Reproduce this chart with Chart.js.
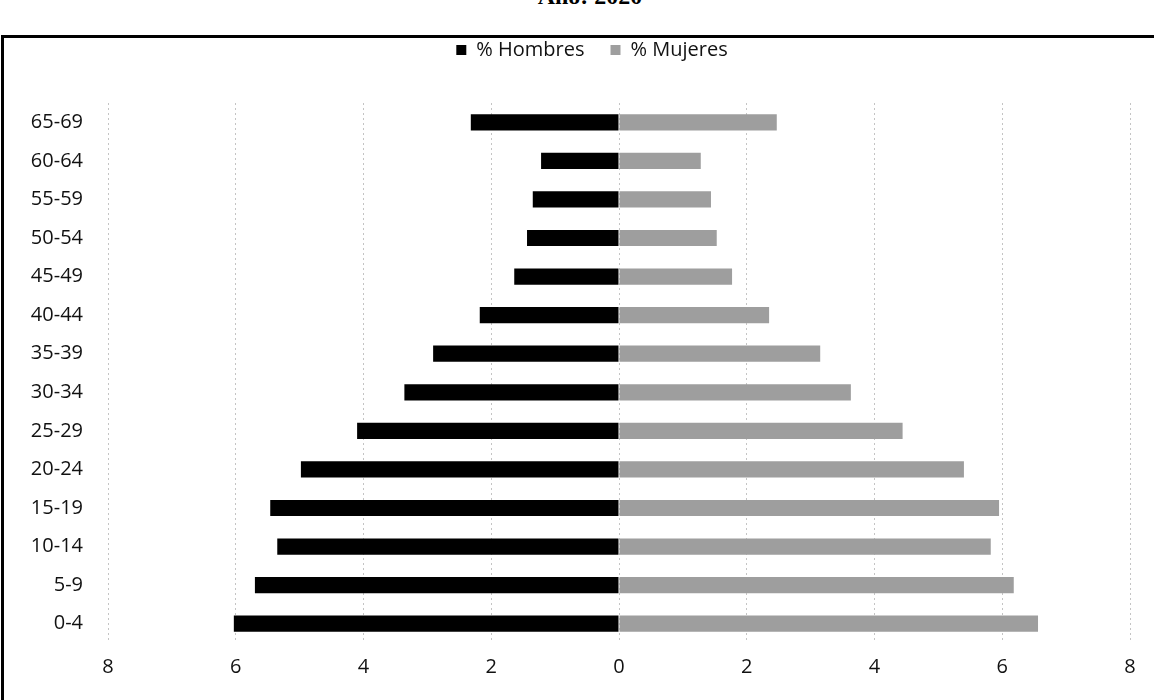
<!DOCTYPE html>
<html lang="es">
<head>
    <meta charset="UTF-8">
    <title>Pirámide de población - Año: 2020</title>
    <script src="https://cdn.jsdelivr.net/npm/chart.js"></script>
    <style>
        body { margin: 0; background: #fff; width: 1154px; height: 700px; overflow: hidden; position: relative; }
        #titulo { position: absolute; top: -17px; left: 0; width: 1180px; text-align: center;
                  font-family: "Liberation Serif", serif; font-weight: bold; font-size: 24px; color: #000; }
        #marco { position: absolute; left: 1px; top: 35px; width: 1170px; height: 700px;
                 border: 3px solid #000; box-sizing: border-box; }
        #wrap { position: absolute; left: 0; top: 14px; width: 1154px; height: 686px; }
    </style>
</head>
<body>
<div id="titulo">Año: 2020</div>
<div id="marco"></div>
<div id="wrap"><canvas id="piramide"></canvas></div>

<script>
    var grupos = ['65-69', '60-64', '55-59', '50-54', '45-49', '40-44', '35-39',
                  '30-34', '25-29', '20-24', '15-19', '10-14', '5-9', '0-4'];
    var hombres = [2.32, 1.22, 1.35, 1.44, 1.64, 2.18, 2.91, 3.36, 4.10, 4.98, 5.46, 5.35, 5.70, 6.03];
    var mujeres = [2.47, 1.28, 1.44, 1.53, 1.77, 2.35, 3.15, 3.63, 4.44, 5.40, 5.95, 5.82, 6.18, 6.56];

    // espacio entre leyenda y grafico, y leyenda un poco a la derecha
    var ajusteLeyenda = {
        id: 'ajusteLeyenda',
        beforeInit: function(chart) {
            var leyenda = chart.legend;
            var fit = leyenda.fit;
            var draw = leyenda.draw;
            leyenda.fit = function() {
                fit.bind(leyenda)();
                this.height = 89;
            };
            leyenda.draw = function() {
                var c = chart.ctx;
                c.save();
                c.translate(27, 0);
                draw.apply(leyenda, arguments);
                c.restore();
            };
        }
    };

    var fuente = { family: 'Open Sans', size: 20 };

    var ctx = document.getElementById('piramide').getContext('2d');
    var piramide = new Chart(ctx, {
        type: 'bar',
        data: {
            labels: grupos,
            datasets: [{
                label: '% Hombres',
                data: hombres.map(function(v) { return -v; }),
                backgroundColor: '#000000',
                barPercentage: 0.42,
                categoryPercentage: 1
            }, {
                label: '% Mujeres',
                data: mujeres,
                backgroundColor: '#9e9e9e',
                barPercentage: 0.42,
                categoryPercentage: 1
            }]
        },
        options: {
            indexAxis: 'y',
            responsive: true,
            maintainAspectRatio: false,
            animation: false,
            layout: { padding: { left: 0, right: 24, top: 0, bottom: 0 } },
            plugins: {
                legend: {
                    position: 'top',
                    labels: {
                        font: fuente,
                        color: '#111',
                        boxWidth: 10,
                        boxHeight: 10,
                        padding: 26
                    }
                },
                tooltip: { enabled: false }
            },
            scales: {
                x: {
                    stacked: true,
                    min: -8,
                    max: 8,
                    ticks: {
                        stepSize: 2,
                        padding: 12,
                        color: '#111',
                        font: fuente,
                        callback: function(v) { return Math.abs(v); }
                    },
                    grid: { color: '#c4c4c4', drawTicks: false },
                    border: { display: false, dash: [2, 3] },
                    afterFit: function(scale) { scale.height = 57; }
                },
                y: {
                    stacked: true,
                    ticks: {
                        padding: 17,
                        color: '#111',
                        font: fuente
                    },
                    grid: { display: false },
                    border: { display: false },
                    afterFit: function(scale) { scale.width = 108; }
                }
            }
        },
        plugins: [ajusteLeyenda]
    });
</script>
</body>
</html>
